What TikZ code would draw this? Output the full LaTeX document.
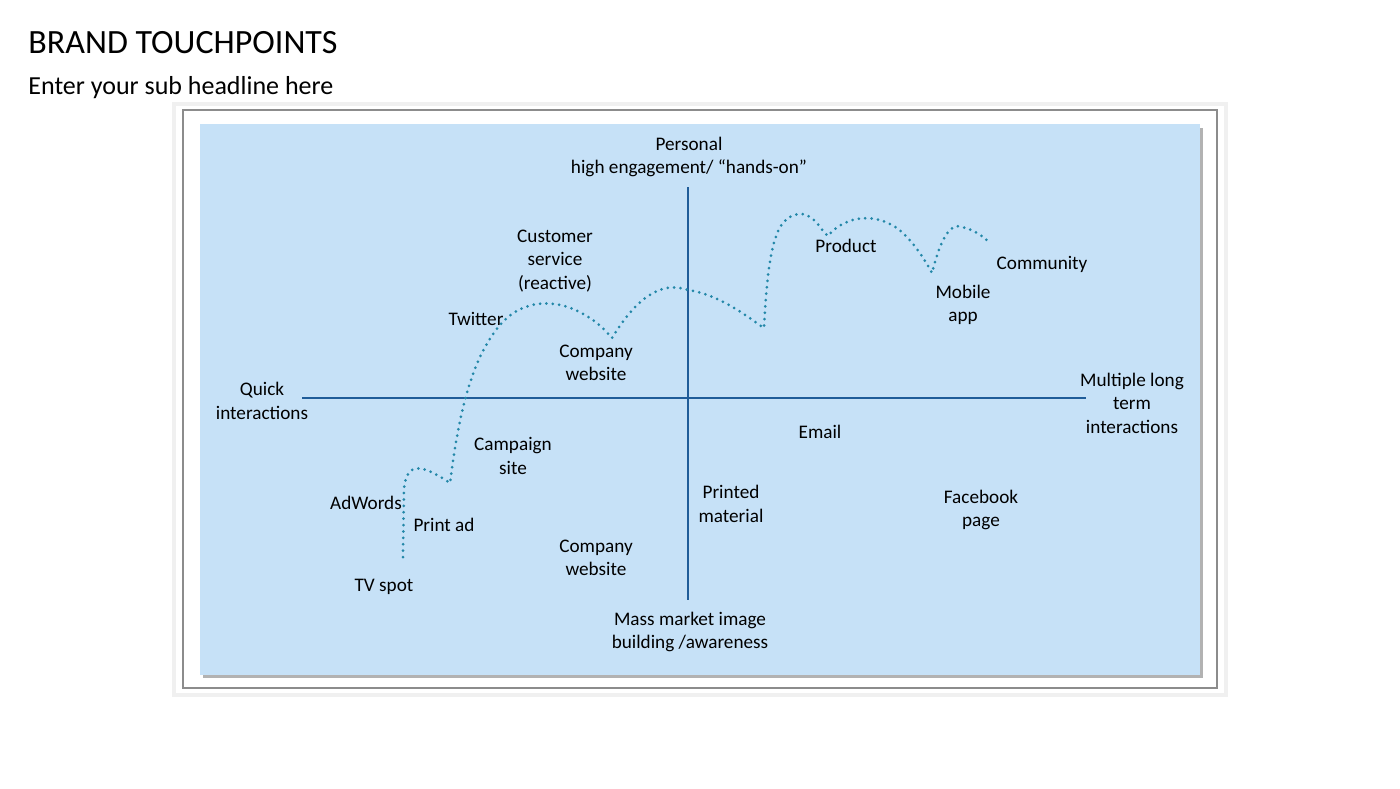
\documentclass[tikz,border=0pt]{standalone}
\usepackage{fontspec}
\setmainfont{Carlito}
\begin{document}
\begin{tikzpicture}[x=0.5pt,y=-0.5pt,
  lbl/.style={font=\fontsize{9.6}{11.8}\selectfont,align=center,inner sep=1pt},
  axis/.style={draw=axisblue,line width=1.4pt},
  dotcurve/.style={draw=curveteal,line width=1.5pt,line cap=round,dash pattern=on 0pt off 3.2pt}]
\definecolor{panel}{HTML}{C6E1F7}
\definecolor{axisblue}{HTML}{1F5C99}
\definecolor{curveteal}{HTML}{2387A8}
\useasboundingbox (0,0) rectangle (1400,788);
\fill[white] (0,0) rectangle (1400,788);
% frame
\fill[black!6] (172,102) rectangle (1228,697);
\fill[white] (176,106) rectangle (1224,693);
\draw[black!45,line width=0.8pt] (183,110) rectangle (1217,688);
\fill[black!30] (203,128) rectangle (1203,678);
\fill[panel] (200,124) rectangle (1200,675);
% titles
\node[anchor=west,font=\fontsize{17}{20}\selectfont,inner sep=0] (title) at (28,43) {BRAND TOUCHPOINTS};
\node[anchor=west,font=\fontsize{13}{16}\selectfont,inner sep=0] (sub) at (28,88) {Enter your sub headline here};
% axes
\coordinate (hl) at (302,398); \coordinate (hr) at (1086,398);
\coordinate (vt) at (688,187); \coordinate (vb) at (688,600);
\draw[axis] (hl) -- (hr);
\draw[axis] (vt) -- (vb);
% curve
\coordinate (c0) at (403,557);
\draw[dotcurve] (c0) -- (404,490)
  .. controls (406,455) and (430,470) .. (450,483)
  .. controls (458,420) and (470,360) .. (500,325)
  .. controls (530,290) and (580,300) .. (612,338)
  .. controls (635,300) and (660,280) .. (688,290)
  .. controls (720,295) and (745,315) .. (764,328)
  .. controls (768,250) and (775,215) .. (800,214)
  .. controls (815,214) and (820,230) .. (828,236)
  .. controls (845,215) and (880,210) .. (905,235)
  .. controls (915,245) and (925,260) .. (932,273)
  .. controls (940,240) and (950,222) .. (962,227)
  .. controls (975,230) and (983,237) .. (988,241);
% labels
\node[lbl] (pers) at (689,157) {Personal\\high engagement/ \textquotedblleft hands-on\textquotedblright};
\node[lbl] (mass) at (690,632) {Mass market image\\building /awareness};
\node[lbl] (quick) at (262,401) {Quick\\interactions};
\node[lbl] (multi) at (1132,403) {Multiple long\\term\\interactions};
\node[lbl] (cs) at (555,261) {Customer\\service\\(reactive)};
\node[lbl] (tw) at (476,319) {Twitter};
\node[lbl] (cw1) at (596,363) {Company\\website};
\node[lbl] (prod) at (846,246) {Product};
\node[lbl] (comm) at (1042,264) {Community};
\node[lbl] (mob) at (963,305) {Mobile\\app};
\node[lbl] (camp) at (513,456) {Campaign\\site};
\node[lbl] (email) at (820,432) {Email};
\node[lbl] (adw) at (366,503) {AdWords};
\node[lbl] (print) at (444,525) {Print ad};
\node[lbl] (pm) at (731,504) {Printed\\material};
\node[lbl] (fb) at (981,510) {Facebook\\page};
\node[lbl] (cw2) at (596,558) {Company\\website};
\node[lbl] (tv) at (384,587) {TV spot};
\end{tikzpicture}
\end{document}
